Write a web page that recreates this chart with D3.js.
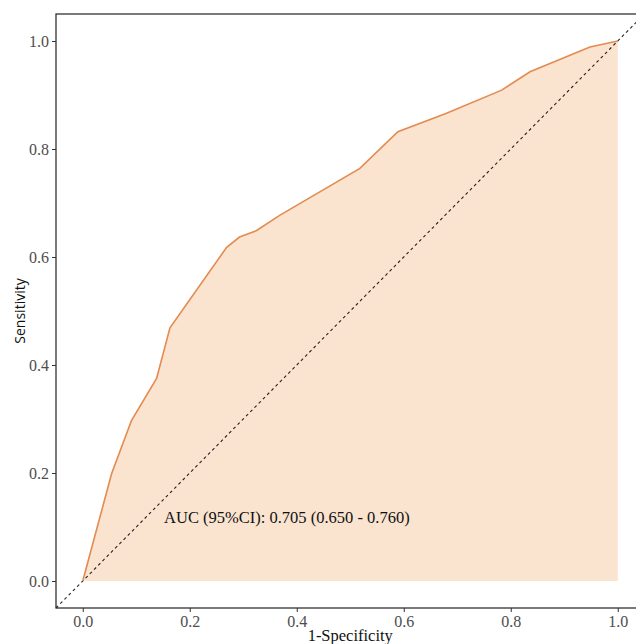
<!DOCTYPE html>
<html>
<head>
<meta charset="utf-8">
<script src="https://cdn.jsdelivr.net/npm/d3@7/dist/d3.min.js"></script>
<style>
  html, body { margin: 0; padding: 0; background: #ffffff; }
  svg { display: block; font-family: "Liberation Serif", "DejaVu Serif", serif; }
</style>
</head>
<body>
<svg id="chart" width="636" height="644"></svg>
<script>
// ROC curve points
const fpr = [0, 0.054, 0.091, 0.138, 0.163, 0.269, 0.293, 0.325, 0.368, 0.518, 0.589, 0.680, 0.783, 0.836, 0.948, 1.0];
const tpr = [0, 0.199, 0.297, 0.375, 0.469, 0.618, 0.637, 0.649, 0.677, 0.764, 0.832, 0.866, 0.909, 0.943, 0.989, 1.0];
const xTicks = [0, 0.2, 0.4, 0.6, 0.8, 1.0];
const yTicks = [0, 0.2, 0.4, 0.6, 0.8, 1.0];
const aucLabel = 'AUC (95%CI): 0.705 (0.650 - 0.760)';

const svg = d3.select('#chart'),
  panelLeft = 56,
  panelTop = 14,
  panelBottom = 608,
  xPerUnit = 535,
  panelRight = panelLeft + 1.1 * xPerUnit;

const x = d3.scaleLinear().domain([-0.05, 1.05]).range([panelLeft, panelRight]),
  y = d3.scaleLinear().domain([-0.05, 1.05]).range([panelBottom, panelTop]);

const pts = fpr.map((d, i) => ({ x: d, y: tpr[i] }));

// shaded area under curve
svg.append('path')
  .datum(pts)
  .attr('fill', '#fae3cf')
  .attr('d', d3.area().x(d => x(d.x)).y0(y(0)).y1(d => y(d.y)));

// chance line
svg.append('line')
  .attr('x1', x(-0.05)).attr('y1', y(-0.05))
  .attr('x2', x(1.05)).attr('y2', y(1.05))
  .attr('stroke', '#222')
  .attr('stroke-width', 1.1)
  .attr('stroke-dasharray', '3,3');

// ROC line
svg.append('path')
  .datum(pts)
  .attr('fill', 'none')
  .attr('stroke', '#e38b50')
  .attr('stroke-width', 1.6)
  .attr('d', d3.line().x(d => x(d.x)).y(d => y(d.y)));

// panel border
svg.append('rect')
  .attr('x', panelLeft).attr('y', panelTop)
  .attr('width', panelRight - panelLeft).attr('height', panelBottom - panelTop)
  .attr('fill', 'none')
  .attr('stroke', '#222')
  .attr('stroke-width', 1.2);

const fmt = d3.format('.1f');

const xAxis = svg.append('g')
  .attr('transform', `translate(0,${panelBottom})`)
  .call(d3.axisBottom(x).tickValues(xTicks).tickFormat(fmt).tickSize(4).tickPadding(4));
const yAxis = svg.append('g')
  .attr('transform', `translate(${panelLeft},0)`)
  .call(d3.axisLeft(y).tickValues(yTicks).tickFormat(fmt).tickSize(4).tickPadding(3));

[xAxis, yAxis].forEach(g => {
  g.attr('font-family', null).attr('font-size', null);
  g.select('.domain').remove();
  g.selectAll('line').attr('stroke', '#333');
  g.selectAll('text')
    .attr('fill', '#4d4d4d')
    .style('font-size', '16px')
    .style('font-family', '"Liberation Serif", serif');
});

svg.append('text')
  .attr('x', (panelLeft + panelRight) / 2)
  .attr('y', 641)
  .attr('text-anchor', 'middle')
  .attr('fill', '#111')
  .style('font-size', '16.5px')
  .text('1-Specificity');

svg.append('text')
  .attr('transform', `translate(25,${(panelTop + panelBottom) / 2}) rotate(-90)`)
  .attr('text-anchor', 'middle')
  .attr('fill', '#111')
  .style('font-family', '"Open Sans", sans-serif')
  .style('font-size', '14px')
  .text('Sensitivity');

svg.append('text')
  .attr('x', x(0.152))
  .attr('y', y(0.108))
  .attr('fill', '#111')
  .style('font-size', '16.5px')
  .text(aucLabel);
</script>
</body>
</html>
